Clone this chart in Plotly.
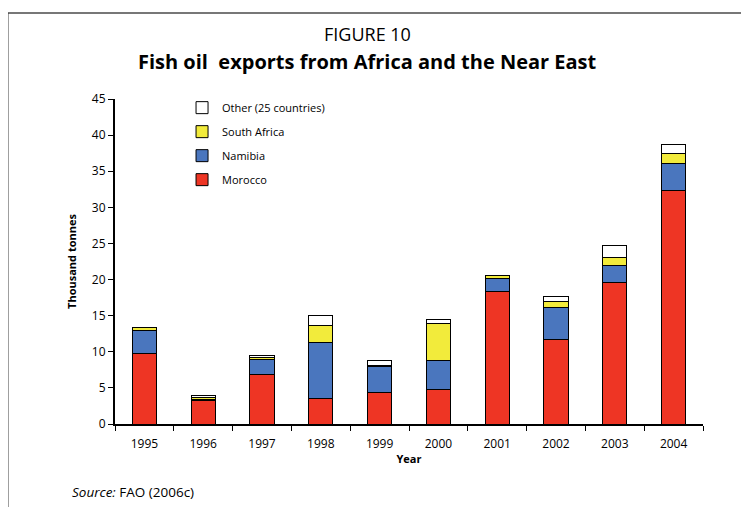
import plotly.graph_objects as go

# Fish oil exports, thousand tonnes
years = ["1995", "1996", "1997", "1998", "1999", "2000", "2001", "2002", "2003", "2004"]
morocco = [9.8, 3.3, 6.9, 3.6, 4.4, 4.8, 18.4, 11.7, 19.6, 32.3]
namibia = [3.2, 0.1, 2.05, 7.7, 3.5, 3.95, 1.8, 4.4, 2.4, 3.75]
south_africa = [0.3, 0.3, 0.25, 2.3, 0.2, 5.15, 0.3, 0.9, 1.05, 1.45]
other = [0.1, 0.3, 0.3, 1.4, 0.7, 0.55, 0.1, 0.65, 1.65, 1.25]

FONT = "Open Sans"

series = [
    ("Morocco", morocco, "#EE3524"),
    ("Namibia", namibia, "#4A76BE"),
    ("South Africa", south_africa, "#F2EB3B"),
    ("Other (25 countries)", other, "#FFFFFF"),
]

fig = go.Figure()
for i, (name, vals, col) in enumerate(series):
    fig.add_trace(go.Bar(
        x=years, y=vals, name=name, legendgroup=name,
        legendrank=len(series) - i,  # top of the stack first in the legend
        marker=dict(color=col, line=dict(color="#000000", width=1)),
    ))

# page body has an 8px margin, so the figure is 8px smaller than the window
fig.update_layout(
    barmode="stack",
    bargap=0.59,
    width=741, height=499,
    margin=dict(l=107, r=46, t=91, b=83),
    plot_bgcolor="white", paper_bgcolor="white",
    font=dict(family=FONT, size=11, color="#000000"),
    showlegend=True,
    legend=dict(
        x=0.114, y=1.018, xanchor="left", yanchor="top",
        traceorder="grouped", tracegroupgap=5,
        font=dict(size=11), bgcolor="rgba(0,0,0,0)",
        itemwidth=30,
    ),
)

fig.update_xaxes(
    showline=True, linecolor="#000000", linewidth=2,
    ticks="outside", tickson="boundaries", ticklen=5, tickcolor="#000000",
    tickfont=dict(size=12), ticklabelstandoff=8,
    title=dict(text="<b>Year</b>", font=dict(size=11), standoff=4),
)
fig.update_yaxes(
    range=[0, 45], dtick=5, showgrid=False, zeroline=False,
    showline=True, linecolor="#000000", linewidth=2,
    ticks="outside", ticklen=5, tickcolor="#000000",
    tickfont=dict(size=12),
    title=dict(text="<b>Thousand tonnes</b>", font=dict(size=11), standoff=13),
)

# figure frame lines (top and left)
fig.add_shape(type="line", xref="paper", yref="paper",
              x0=-0.182, x1=1.1, y0=1.265, y1=1.265,
              line=dict(color="#777777", width=2))
fig.add_shape(type="line", xref="paper", yref="paper",
              x0=-0.182, x1=-0.182, y0=1.265, y1=-0.27,
              line=dict(color="#333333", width=1))

fig.add_annotation(text="FIGURE 10", xref="paper", yref="paper",
                   x=0.43, y=1.2, yanchor="middle", showarrow=False,
                   font=dict(size=18, family=FONT))
fig.add_annotation(text="<b>Fish oil  exports from Africa and the Near East</b>",
                   xref="paper", yref="paper", x=0.43, y=1.115, yanchor="middle",
                   showarrow=False, font=dict(size=20, family=FONT))
fig.add_annotation(text="<i>Source:</i> FAO (2006c)", xref="paper", yref="paper",
                   x=-0.0765, y=-0.209, xanchor="left", yanchor="middle",
                   showarrow=False, font=dict(size=13.5, family=FONT))

fig.write_html("out.html")
